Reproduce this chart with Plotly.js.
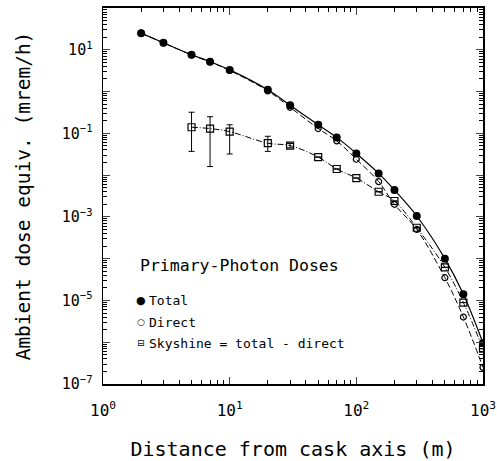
<!DOCTYPE html>
<html><head><meta charset="utf-8">
<script src="https://cdn.plot.ly/plotly-3.0.1.min.js"></script>
<style>html,body{margin:0;padding:0;background:#fff}#c{width:497px;height:461px}</style>
</head><body><div id="c"></div>
<script>
const xTotal = [2,3,5,7,10,20,30,50,70,100,150,200,300,500,700,1000];
const yTotal = [25,14.7,7.6,5.2,3.3,1.1,0.47,0.16,0.08,0.033,0.011,0.0044,1.05e-3,1.0e-4,1.4e-5,9.6e-7];
const xDirect = [2,3,5,7,10,20,30,50,70,100,150,200,300,500,700,1000];
const yDirect = [25,14.6,7.5,5.1,3.2,1.04,0.42,0.13,0.066,0.024,7.0e-3,2.0e-3,5.0e-4,3.5e-5,4.0e-6,2.5e-7];
const xSky = [5,7,10,20,30,50,70,100,150,200,300,500,700,1000];
const ySky = [0.14,0.13,0.11,0.058,0.051,0.027,0.014,0.0085,4.0e-3,2.4e-3,5.5e-4,6.2e-5,8.9e-6,7e-7];
const skyErrPlus = [0.18,0.12,0.05,0.027,0.006,0,0,0,0,0,0,0,0,0];
const skyErrMinus = [0.103,0.114,0.078,0.021,0.006,0,0,0,0,0,0,0,0,0];
const xTickVals = [1,10,100,1000];
const xTickText = ['10<sup>0</sup>','10<sup>1</sup>','10<sup>2</sup>','10<sup>3</sup>'];
const yTickVals = [1e-7,1e-6,1e-5,1e-4,1e-3,1e-2,1e-1,1,10,100];
const yTickText = ['10<sup>−7</sup>','','10<sup>−5</sup>','','10<sup>−3</sup>','','10<sup>−1</sup>','','10<sup>1</sup>',''];
const legendTitle = 'Primary-Photon Doses';
const names = ['Total','Direct','Skyshine = total - direct'];
const legendGlyphs = ['●','○','⊟'];

const F = 'DejaVu Sans Mono, monospace';
const traces = [
  {x:xDirect,y:yDirect,mode:'lines',line:{color:'#000',width:1,dash:'6px,3px',shape:'spline'},showlegend:false,hoverinfo:'skip'},
  {x:xSky,y:ySky,mode:'lines',line:{color:'#000',width:1,dash:'6px,2px,1px,2px',shape:'spline'},showlegend:false,hoverinfo:'skip'},
  {x:xTotal,y:yTotal,mode:'lines',line:{color:'#000',width:1.2,shape:'spline'},showlegend:false,hoverinfo:'skip'},
  {x:xTotal,y:yTotal,mode:'markers',name:names[0],showlegend:false,marker:{symbol:'circle',size:8,color:'#000'}},
  {x:xDirect,y:yDirect,mode:'markers',name:names[1],showlegend:false,marker:{symbol:'circle-open',size:6,color:'#000',line:{width:1.2,color:'#000'}}},
  {x:xSky,y:ySky,mode:'markers',name:names[2],showlegend:false,marker:{symbol:'square-open',size:7,color:'#000',line:{width:1.2,color:'#000'}},
   error_y:{type:'data',symmetric:false,array:skyErrPlus,arrayminus:skyErrMinus,color:'#000',thickness:1,width:3}}
];
// legend built as annotations (plot area: x 103..483, y 8..384)
const px = v => (v-103)/380, py = v => (384-v)/376;
const itemY = [300,322,343];
const annotations = [
  {xref:'paper',yref:'paper',x:px(138),y:py(265),xanchor:'left',yanchor:'middle',showarrow:false,
   text:legendTitle,font:{family:F,size:16.5,color:'#000'}}
];
names.forEach((n,i)=>{
  annotations.push({xref:'paper',yref:'paper',x:px(141),y:py(itemY[i]),xanchor:'center',yanchor:'middle',showarrow:false,
    text:legendGlyphs[i],font:{family:'DejaVu Sans, sans-serif',size:i===0?11:9,color:'#000'}});
  annotations.push({xref:'paper',yref:'paper',x:px(147),y:py(itemY[i]),xanchor:'left',yanchor:'middle',showarrow:false,
    text:n,font:{family:F,size:13,color:'#000'}});
});
const layout = {
  width:497,height:461,
  margin:{l:103,r:14,t:8,b:77},
  paper_bgcolor:'#fff',plot_bgcolor:'#fff',
  font:{family:F,color:'#000',size:16},
  showlegend:false,
  annotations:annotations,
  xaxis:{type:'log',range:[0,3],tickmode:'array',tickvals:xTickVals,ticktext:xTickText,
    ticks:'inside',ticklen:7,tickwidth:1,showline:true,linewidth:2,linecolor:'#000',mirror:'ticks',
    showgrid:false,zeroline:false,tickfont:{family:F,size:16},ticklabelstandoff:11,
    minor:{ticks:'inside',ticklen:4,dtick:'D1',showgrid:false,tickcolor:'#000'},
    title:{text:'Distance from cask axis (m)',font:{family:F,size:20},standoff:30}},
  yaxis:{type:'log',range:[-7,2],tickmode:'array',tickvals:yTickVals,ticktext:yTickText,
    ticks:'inside',ticklen:7,tickwidth:1,showline:true,linewidth:1.5,linecolor:'#000',mirror:'ticks',
    showgrid:false,zeroline:false,tickfont:{family:F,size:15},ticklabelstandoff:6,
    minor:{ticks:'inside',ticklen:4,dtick:'D1',showgrid:false,tickcolor:'#000'},
    title:{text:'Ambient dose equiv. (mrem/h)',font:{family:F,size:19.5},standoff:26}}
};
Plotly.newPlot('c',traces,layout,{displayModeBar:false,staticPlot:true});
</script></body></html>
